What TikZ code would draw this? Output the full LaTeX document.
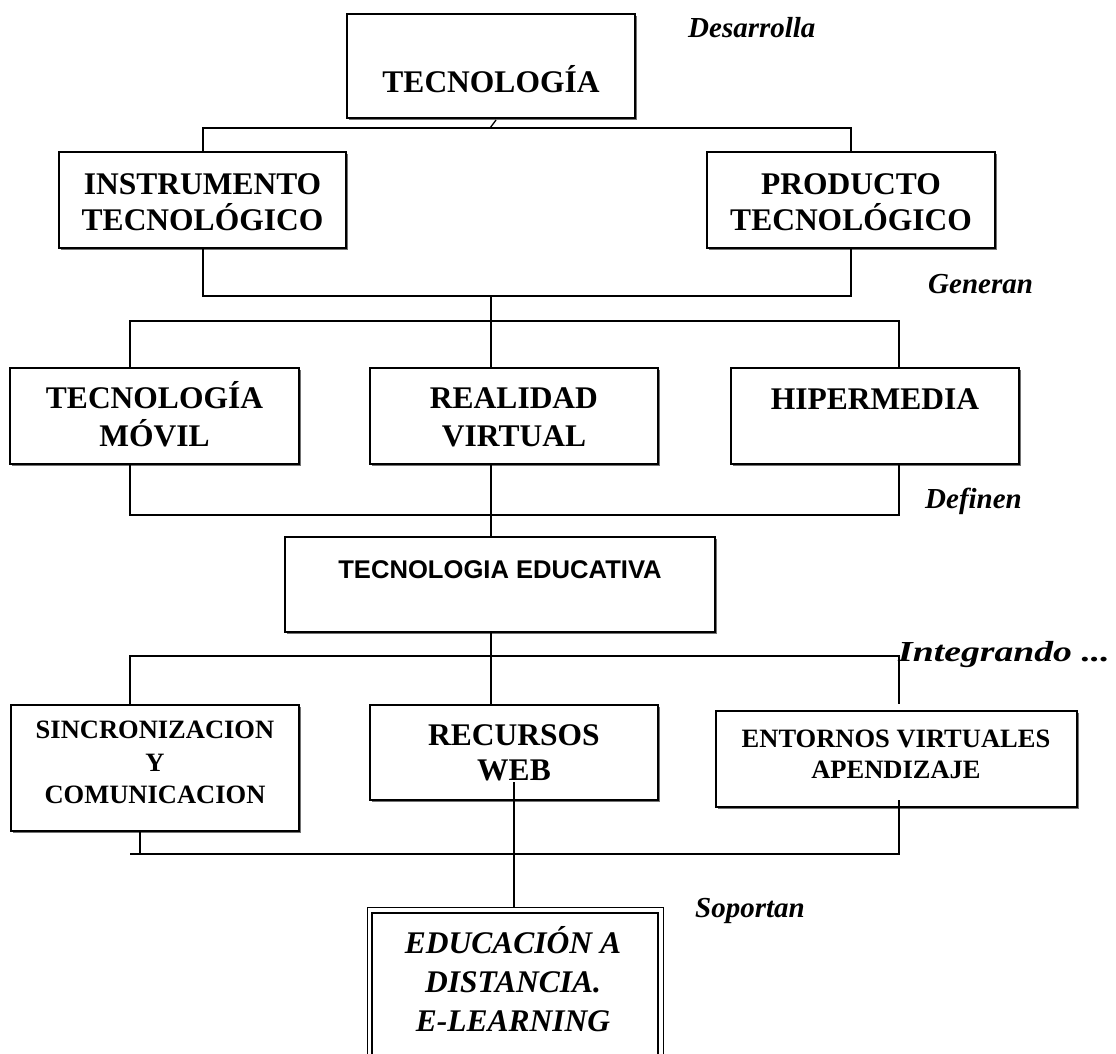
\documentclass[tikz,border=0pt]{standalone}
\usepackage{fontspec}
\usetikzlibrary{shadows}
\setmainfont{Liberation Serif}
\setsansfont{Liberation Sans}
\begin{document}
\begin{tikzpicture}[x=1pt,y=-1pt,
  box/.style={draw, fill=white, line width=1.4pt, inner sep=0pt,
    drop shadow={shadow xshift=1.5pt, shadow yshift=-1.8pt, fill=black!55, opacity=1}},
  conn/.style={line width=1.3pt},
  big/.style={font=\bfseries\fontsize{31.5}{31.5}\selectfont, anchor=base, inner sep=0pt},
  small/.style={font=\bfseries\fontsize{26.5}{26.5}\selectfont, anchor=base, inner sep=0pt},
  lbl/.style={font=\bfseries\itshape\fontsize{29}{29}\selectfont, anchor=base west, inner sep=0pt},
  ital/.style={font=\bfseries\itshape\fontsize{31.5}{31.5}\selectfont, anchor=base, inner sep=0pt}]
\useasboundingbox (0,0) rectangle (1116,1054);
\clip (0,0) rectangle (1116,1054);
\fill[white] (0,0) rectangle (1116,1054);

% boxes
\node[box, minimum width=288pt, minimum height=104pt] (tec) at (491,66) {};
\node[box, minimum width=287pt, minimum height=96pt] (ins) at (202.5,200) {};
\node[box, minimum width=288pt, minimum height=96pt] (pro) at (851,200) {};
\node[box, minimum width=289pt, minimum height=96pt] (mov) at (154.5,416) {};
\node[box, minimum width=288pt, minimum height=96pt] (rea) at (514,416) {};
\node[box, minimum width=288pt, minimum height=96pt] (hip) at (875,416) {};
\node[box, minimum width=430pt, minimum height=95pt] (edu) at (500,584.5) {};
\node[box, minimum width=288pt, minimum height=126pt] (sin) at (155,768) {};
\node[box, minimum width=288pt, minimum height=95pt] (rec) at (514,752.5) {};
\node[box, minimum width=361pt, minimum height=96pt] (ent) at (896.5,759) {};
\node[draw, line width=1pt, inner sep=0pt, minimum width=296pt, minimum height=173pt] (dist) at (515,993.5) {};
\node[draw, line width=2.6pt, inner sep=0pt, minimum width=286pt, minimum height=167pt] (distin) at (515,996.5) {};

% texts
\node[big] (tec-t) at (491,93) {TECNOLOGÍA};
\node[big] (ins-t1) at (202.5,194) {INSTRUMENTO};
\node[big] (ins-t2) at (202.5,230) {TECNOLÓGICO};
\node[big] (pro-t1) at (851,194) {PRODUCTO};
\node[big] (pro-t2) at (851,230) {TECNOLÓGICO};
\node[big] (mov-t1) at (154.5,408) {TECNOLOGÍA};
\node[big] (mov-t2) at (154.5,446) {MÓVIL};
\node[big] (rea-t1) at (514,408) {REALIDAD};
\node[big] (rea-t2) at (514,446) {VIRTUAL};
\node[big] (hip-t) at (875,409) {HIPERMEDIA};
\node[font=\sffamily\bfseries\fontsize{25.6}{25.6}\selectfont, anchor=base, inner sep=0pt] (edu-t) at (500,578) {TECNOLOGIA EDUCATIVA};
\node[small] (sin-t1) at (155,738) {SINCRONIZACION};
\node[small] (sin-t2) at (155,771) {Y};
\node[small] (sin-t3) at (155,803) {COMUNICACION};
\node[big] (rec-t1) at (514,745) {RECURSOS};
\node[big] (rec-t2) at (514,780) {WEB};
\node[small] (ent-t1) at (896,747) {ENTORNOS VIRTUALES};
\node[small] (ent-t2) at (896,778) {APENDIZAJE};
\node[ital] (dist-t1) at (513,953) {EDUCACIÓN A};
\node[ital] (dist-t2) at (513,992) {DISTANCIA.};
\node[ital] (dist-t3) at (513,1031) {E-LEARNING};

% labels
\node[lbl] (l1) at (688,38) {Desarrolla};
\node[lbl] (l2) at (928,293) {Generan};
\node[lbl] (l3) at (925,508) {Definen};
\node[lbl] (l4) at (898,661) {\scalebox{1.3}[1]{Integrando ...}};
\node[lbl] (l5) at (695,917) {Soportan};

% junction coordinates
\coordinate (a1) at (203,128);
\coordinate (a2) at (851,128);
\coordinate (tick1) at (490,128);
\coordinate (tick2) at (496,120);
\coordinate (b1) at (203,296);
\coordinate (b2) at (491,296);
\coordinate (c1) at (491,321);
\coordinate (c0) at (130,321);
\coordinate (c3) at (899,321);
\coordinate (d1) at (491,515);
\coordinate (d0) at (130,515);
\coordinate (d3) at (899,515);
\coordinate (e1) at (491,656);
\coordinate (e0) at (130,656);
\coordinate (e3) at (899,656);
\coordinate (e3b) at (899,704);
\coordinate (f0) at (130,854);
\coordinate (f1) at (140,854);
\coordinate (f3) at (899,854);
\coordinate (f3t) at (899,800);
\coordinate (w1) at (514,782);

% connectors
\draw[conn] (tick1) -- (tick2);
\draw[conn] (ins.north -| a1) -- (a1) -- (a2) -- (pro.north -| a2);
\draw[conn] (ins.south -| a1) -- (b1) -- (pro.south |- b1) -- (pro.south);
\draw[conn] (b2) -- (c1);
\draw[conn] (mov.north -| c0) -- (c0) -- (c3) -- (hip.north -| c3);
\draw[conn] (c1) -- (rea.north -| c1);
\draw[conn] (mov.south -| d0) -- (d0) -- (d3) -- (hip.south -| d3);
\draw[conn] (rea.south -| d1) -- (edu.north -| d1);
\draw[conn] (edu.south -| e1) -- (rec.north -| e1);
\draw[conn] (sin.north -| e0) -- (e0) -- (e3) -- (e3b);
\draw[conn] (sin.south -| f1) -- (f1);
\draw[conn] (f0) -- (f3) -- (f3t);
\draw[conn] (w1) -- (dist.north -| w1);
\end{tikzpicture}
\end{document}
